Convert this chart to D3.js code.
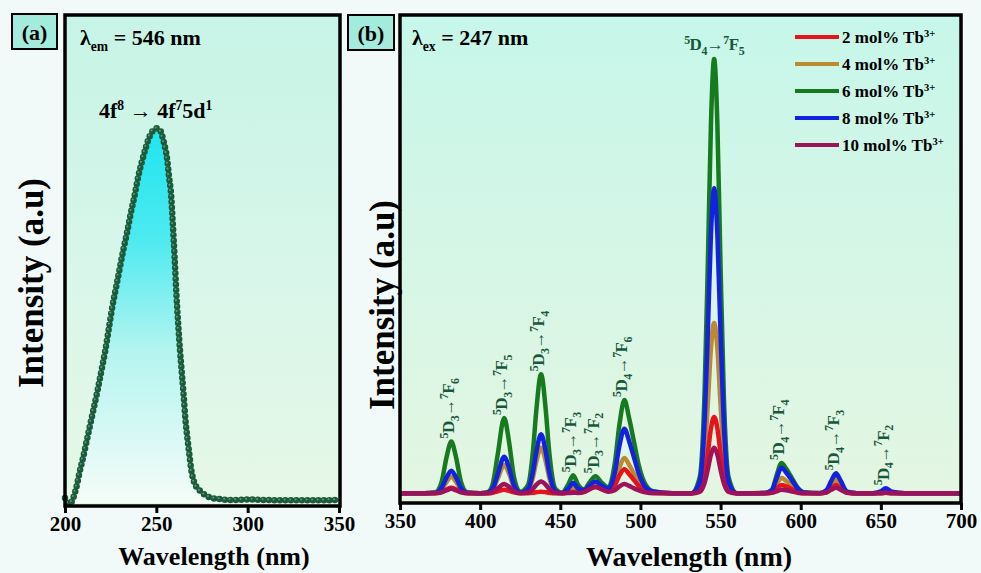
<!DOCTYPE html>
<html lang="en">
<head>
<meta charset="UTF-8">
<title>Tb3+ excitation and emission</title>
<script src="https://d3js.org/d3.v7.min.js"></script>
<style>
    body { margin: 0; background: #f1f9f9; }
    svg { display: block; }
    text { font-family: "Liberation Serif", "Times New Roman", serif; font-weight: bold; }
</style>
</head>
<body>
<svg width="981" height="573"></svg>
<script>
// ---- panel (a): excitation spectrum (lambda_em = 546 nm)
const excWl = [200, 201, 202, 203, 204, 206, 208, 210, 212, 214, 216, 218, 220, 222, 224, 226, 228, 230,
    232, 234, 236, 238, 240, 242, 244, 246, 248, 250, 252, 254, 256, 257, 258, 259, 260, 261, 262, 263,
    264, 265, 266, 267, 268, 269, 270, 272, 274, 277, 280, 285, 292, 300, 310, 320, 335, 350];
const excI = [2.1, 1.2, 0.6, 0.6, 1.5, 4.5, 9, 13, 17.5, 22, 26.5, 31, 36, 41, 47, 53, 58, 63,
    68, 72.5, 77.5, 82, 87, 91, 94.5, 97.5, 99.3, 100, 99.5, 96.5, 91.5, 87, 83, 75, 66, 56, 48, 41,
    35, 29, 22.5, 18, 14, 10, 7.5, 5, 4, 2.8, 2.2, 1.8, 1.6, 1.7, 1.6, 1.5, 1.5, 1.6];
const xTicksA = [200, 250, 300, 350];

// ---- panel (b): emission spectra (lambda_ex = 247 nm)
const emWl = [350, 365, 372, 376, 379, 382, 385, 388, 392, 400, 405, 408, 411, 415, 418, 421, 425,
    430, 433, 435, 438, 441, 443, 447, 451, 455, 458, 461, 465, 468, 472, 476, 480, 484, 487, 490,
    493, 496, 499, 503, 508, 520, 532, 537, 540, 542, 544, 546, 548, 550, 552, 555, 560, 570, 578,
    582, 585, 588, 591, 594, 598, 602, 612, 616, 619, 622, 625, 629, 635, 645, 650, 653, 657, 665, 680, 700];
const tb2 = [2, 2, 2, 2.3, 2.8, 3.1, 2.8, 2.3, 2, 2, 2, 2.1, 2.4, 2.7, 2.5, 2.2, 2,
    2, 2.1, 2.2, 2.3, 2.2, 2.1, 2, 2, 2.15, 2.3, 2.15, 2.3, 2.8, 3.3, 2.8, 2.4, 3.6, 5.7, 6.9,
    5.9, 4.7, 3.5, 2.5, 2.1, 2, 2, 2.6, 5.6, 10.1, 15.3, 17.6, 15.3, 10.1, 5.6, 2.6, 2, 2, 2,
    2.2, 3.0, 3.7, 3.4, 2.9, 2.3, 2, 2, 2.2, 3.0, 3.7, 3.0, 2.1, 2, 2, 2, 2.1, 2, 2, 2, 2];
const tb4 = [2, 2, 2.1, 2.8, 4.3, 5.4, 4.3, 2.8, 2.1, 2, 2.1, 2.8, 5.0, 7.8, 6.0, 3.3, 2.1,
    2.7, 5.3, 8.4, 11.3, 8.4, 5.3, 2.3, 2.03, 2.6, 3.3, 2.6, 2.4, 3.0, 3.7, 3.0, 2.5, 4.3, 7.4, 9.2,
    7.8, 6.0, 4.2, 2.7, 2.1, 2, 2, 3.3, 10.0, 20.1, 31.7, 36.9, 31.7, 20.1, 10.0, 3.3, 2, 2, 2,
    2.4, 3.9, 5.1, 4.5, 3.7, 2.6, 2.1, 2, 2.4, 3.6, 4.7, 3.6, 2.2, 2, 2, 2.1, 2.2, 2.1, 2, 2, 2];
const tb6 = [2, 2, 2.2, 4.4, 9.3, 12.6, 9.3, 4.4, 2.2, 2, 2.3, 4.1, 10.0, 17.4, 12.6, 5.5, 2.3,
    3.8, 10.8, 18.8, 26.4, 18.8, 10.8, 2.9, 2.1, 3.8, 5.7, 3.8, 2.8, 4.1, 5.5, 4.1, 3.2, 8.1, 16.3, 21.1,
    17.3, 12.5, 7.7, 3.9, 2.4, 2, 2, 5.3, 22.5, 48.3, 77.7, 91, 77.7, 48.3, 22.5, 5.3, 2, 2, 2.1,
    2.7, 5.7, 8.2, 7.0, 5.4, 3.2, 2.2, 2, 2.5, 4.1, 5.5, 4.1, 2.2, 2, 2, 2.2, 2.4, 2.1, 2, 2, 2];
const tb8 = [2, 2, 2.1, 3.1, 5.2, 6.6, 5.2, 3.1, 2.1, 2, 2.15, 3.0, 5.9, 9.5, 7.2, 3.7, 2.15,
    2.9, 6.4, 10.3, 14.1, 10.3, 6.4, 2.4, 2.04, 3.0, 4.1, 3.0, 2.6, 3.5, 4.4, 3.5, 2.9, 6.2, 11.9, 15.2,
    12.6, 9.3, 6.0, 3.3, 2.3, 2, 2, 4.3, 16.4, 34.5, 55.1, 64.5, 55.1, 34.5, 16.4, 4.3, 2, 2, 2.05,
    2.6, 5.1, 7.2, 6.2, 4.9, 3.0, 2.15, 2.04, 2.6, 4.5, 6.1, 4.5, 2.3, 2, 2, 2.4, 3.0, 2.3, 2, 2, 2];
const tb10 = [2, 2, 2, 2.2, 2.6, 2.9, 2.6, 2.2, 2, 2, 2, 2.3, 3.0, 3.9, 3.3, 2.4, 2,
    2.2, 2.9, 3.7, 4.4, 3.7, 2.9, 2.1, 2, 2.05, 2.1, 2.05, 2.3, 2.8, 3.3, 2.8, 2.3, 2.6, 3.4, 3.9,
    3.5, 3.0, 2.6, 2.2, 2, 2, 2, 2.3, 4.1, 6.8, 9.9, 11.3, 9.9, 6.8, 4.1, 2.3, 2, 2, 2,
    2.1, 2.4, 2.7, 2.6, 2.4, 2.1, 2, 2, 2.15, 2.7, 3.1, 2.7, 2.1, 2, 2, 2, 2.1, 2, 2, 2, 2];
const seriesNames = ["2 mol% Tb", "4 mol% Tb", "6 mol% Tb", "8 mol% Tb", "10 mol% Tb"];
const seriesColors = ["#e8121b", "#bb8a2c", "#177a1e", "#1322e0", "#9e1259"];
const xTicksB = [350, 400, 450, 500, 550, 600, 650, 700];

// transition labels (peak wavelength, 5D_J upper, 7F_J lower)
const bandNm = [382, 415, 438, 458, 472, 490, 588, 622, 653];
const bandUpper = ["3", "3", "3", "3", "3", "4", "4", "4", "4"];
const bandLower = ["6", "5", "4", "3", "2", "6", "4", "3", "2"];

const svg = d3.select("svg");

const defs = svg.append("defs");
function vGrad(id, stops) {
    const g = defs.append("linearGradient").attr("id", id)
        .attr("x1", 0).attr("y1", 0).attr("x2", 0).attr("y2", 1);
    stops.forEach(s => g.append("stop").attr("offset", s[0]).attr("stop-color", s[1]));
}
vGrad("bgA", [[0, "#c6f4e6"], [0.55, "#d9f6ea"], [1, "#e7f8e6"]]);
vGrad("bgB", [[0, "#c6f7ea"], [0.5, "#d6f6e6"], [1, "#e4f6e2"]]);
const fillGrad = defs.append("linearGradient").attr("id", "peakFill")
    .attr("gradientUnits", "userSpaceOnUse")
    .attr("x1", 0).attr("y1", 128).attr("x2", 0).attr("y2", 500);
[[0, "#1fe4ef"], [0.3, "#4eeaf0"], [0.6, "#b4f4f0"], [1, "#f4fcf8"]].forEach(s =>
    fillGrad.append("stop").attr("offset", s[0]).attr("stop-color", s[1]));

// writes parts like [["5","sup"],["D","n"],["3","sub"]] into a text node
function richText(sel, parts, size, small) {
    const k = small || 0.62;
    let cur = 0;
    parts.forEach(p => {
        const target = p[1] === "sup" ? -0.38 * size : p[1] === "sub" ? 0.28 * size : 0;
        sel.append("tspan")
            .attr("dy", target - cur)
            .style("font-size", (p[1] === "n" ? size : size * k) + "px")
            .text(p[0]);
        cur = target;
    });
}

function styleAxis(g) {
    g.select(".domain").remove();
    g.selectAll("line").attr("stroke", "#000").attr("stroke-width", 3);
    g.selectAll("text").attr("fill", "#000").style("font-size", "21px")
        .style("font-family", "'Liberation Serif', serif").style("font-weight", "bold");
}

// ================= panel (a)
const xA = d3.scaleLinear().domain([200, 350]).range([65, 339]);
const yA = d3.scaleLinear().domain([0, 130]).range([506, 15]);
const gA = svg.append("g");

gA.append("rect").attr("x", 65).attr("y", 15).attr("width", 275).attr("height", 491)
    .attr("fill", "url(#bgA)");

const excData = excWl.map((w, i) => ({ w: w, v: excI[i] }));
gA.append("path")
    .datum(excData)
    .attr("fill", "url(#peakFill)")
    .attr("d", d3.area().x(d => xA(d.w)).y0(yA(0.8)).y1(d => yA(d.v)).curve(d3.curveMonotoneX));

const excLine = d3.line().x(d => xA(d.w)).y(d => yA(d.v)).curve(d3.curveMonotoneX);
gA.append("path").datum(excData).attr("d", excLine)
    .attr("fill", "none").attr("stroke", "#5b5b5b").attr("stroke-width", 1.5);
gA.append("path").datum(excData).attr("d", excLine)
    .attr("fill", "none").attr("stroke", "#1b5b3b").attr("stroke-width", 6.5)
    .attr("stroke-linecap", "round").attr("stroke-dasharray", "0 5.5");
gA.append("path").datum(excData).attr("d", excLine)
    .attr("transform", "translate(-0.8,-0.8)")
    .attr("fill", "none").attr("stroke", "#5d9a7b").attr("stroke-width", 2)
    .attr("stroke-linecap", "round").attr("stroke-dasharray", "0 5.5");

gA.append("g")
    .attr("transform", "translate(0,506)")
    .call(d3.axisBottom(xA).tickValues(xTicksA).tickSize(7).tickPadding(3).tickSizeOuter(0))
    .call(styleAxis);

gA.append("rect").attr("x", 65).attr("y", 15).attr("width", 275).attr("height", 491)
    .attr("fill", "none").attr("stroke", "#000").attr("stroke-width", 3.5);

gA.append("text").attr("x", 214).attr("y", 565).attr("text-anchor", "middle")
    .style("font-size", "26px").text("Wavelength (nm)");
gA.append("text").attr("transform", "translate(43,283) rotate(-90)").attr("text-anchor", "middle")
    .style("font-size", "35px").text("Intensity (a.u)");

const lamA = gA.append("text").attr("x", 80).attr("y", 45).style("font-size", "22px");
richText(lamA, [["λ", "n"], ["em", "sub"], [" = 546 nm", "n"]], 22);
const trA = gA.append("text").attr("x", 99).attr("y", 118).style("font-size", "22px");
richText(trA, [["4f", "n"], ["8", "sup"], [" → 4f", "n"], ["7", "sup"], ["5d", "n"], ["1", "sup"]], 22);

svg.append("rect").attr("x", 12).attr("y", 14).attr("width", 45).attr("height", 35)
    .attr("fill", "#a3ecdd").attr("stroke", "#000").attr("stroke-width", 2);
svg.append("text").attr("x", 34.5).attr("y", 40).attr("text-anchor", "middle")
    .style("font-size", "22px").text("(a)");

// ================= panel (b)
const xB = d3.scaleLinear().domain([350, 700]).range([400, 961]);
const yB = d3.scaleLinear().domain([0, 100]).range([503, 15]);
const gB = svg.append("g");

gB.append("rect").attr("x", 400).attr("y", 15).attr("width", 561).attr("height", 488)
    .attr("fill", "url(#bgB)");

const allSeries = [tb2, tb4, tb6, tb8, tb10];
const drawOrder = [2, 1, 0, 3, 4];
const emLine = d3.line().x((d, i) => xB(emWl[i])).y(d => yB(d)).curve(d3.curveMonotoneX);
drawOrder.forEach(k => {
    gB.append("path").datum(allSeries[k]).attr("d", emLine)
        .attr("fill", "none").attr("stroke", seriesColors[k]).attr("stroke-width", 4.5)
        .attr("stroke-linejoin", "round");
});

gB.append("g")
    .attr("transform", "translate(0,503)")
    .call(d3.axisBottom(xB).tickValues(xTicksB).tickSize(7).tickPadding(3).tickSizeOuter(0))
    .call(styleAxis);

gB.append("rect").attr("x", 400).attr("y", 15).attr("width", 561).attr("height", 488)
    .attr("fill", "none").attr("stroke", "#000").attr("stroke-width", 3.5);

gB.append("text").attr("x", 689).attr("y", 566).attr("text-anchor", "middle")
    .style("font-size", "28px").text("Wavelength (nm)");
gB.append("text").attr("transform", "translate(394,305) rotate(-90)").attr("text-anchor", "middle")
    .style("font-size", "35px").text("Intensity (a.u)");

const lamB = gB.append("text").attr("x", 412).attr("y", 45).style("font-size", "22px");
richText(lamB, [["λ", "n"], ["ex", "sub"], [" = 247 nm", "n"]], 22);

// rotated transition labels sitting on top of the tallest curve
const labelColor = "#17573a";
bandNm.forEach((nm, j) => {
    const i = emWl.indexOf(nm);
    const top = d3.max(allSeries, s => s[i]);
    const t = gB.append("text")
        .attr("transform", `translate(${xB(nm) + 3},${yB(top) - 3}) rotate(-90)`)
        .attr("fill", labelColor).style("font-size", "17px").style("letter-spacing", "-0.5px");
    richText(t, [["5", "sup"], ["D", "n"], [bandUpper[j], "sub"], ["→", "n"],
        ["7", "sup"], ["F", "n"], [bandLower[j], "sub"]], 17, 0.7);
});
const mainLab = gB.append("text").attr("x", xB(546)).attr("y", 50).attr("text-anchor", "middle")
    .attr("fill", labelColor).style("font-size", "17px").style("letter-spacing", "-0.5px");
richText(mainLab, [["5", "sup"], ["D", "n"], ["4", "sub"], ["→", "n"], ["7", "sup"], ["F", "n"], ["5", "sub"]], 17, 0.7);

// legend
const leg = gB.append("g");
seriesNames.forEach((name, k) => {
    const y = 37 + k * 27;
    leg.append("line").attr("x1", 795).attr("x2", 839).attr("y1", y).attr("y2", y)
        .attr("stroke", seriesColors[k]).attr("stroke-width", 4);
    const t = leg.append("text").attr("x", 842).attr("y", y + 6).style("font-size", "17px");
    richText(t, [[name, "n"], ["3+", "sup"]], 17);
});

svg.append("rect").attr("x", 348).attr("y", 15).attr("width", 46).attr("height", 35)
    .attr("fill", "#a3ecdd").attr("stroke", "#000").attr("stroke-width", 2);
svg.append("text").attr("x", 371).attr("y", 41).attr("text-anchor", "middle")
    .style("font-size", "22px").text("(b)");
</script>
</body>
</html>
